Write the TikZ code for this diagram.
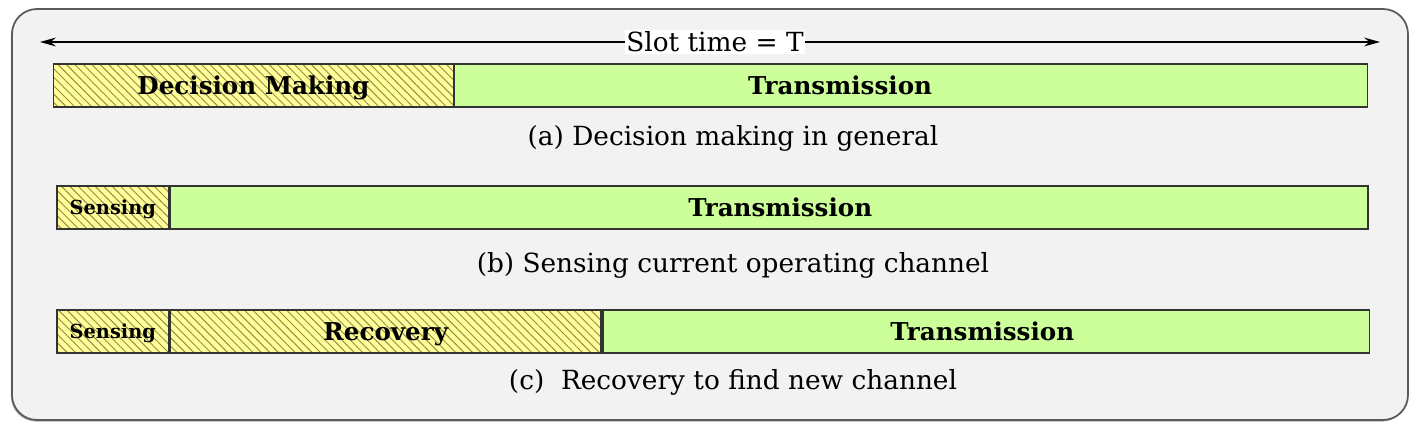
\documentclass[tikz,border=0pt]{standalone}
\usepackage{fontspec}
\setmainfont{DejaVu Serif}
\usepackage{xcolor}
\usepackage{tikz}
\usetikzlibrary{arrows.meta,positioning,shadows,patterns.meta}
\definecolor{SlotGray}  {HTML}{F2F2F2}
\definecolor{SlotEdge}  {HTML}{5A5A5A}
\definecolor{TxGreen}   {HTML}{CCFF99}
\definecolor{HatchYel}  {HTML}{FFFF99}
\definecolor{HatchLine} {HTML}{9A8A4A}
\definecolor{BarEdge}   {HTML}{333333}

\tikzset{
  segbox/.style={draw=BarEdge,line width=0.9pt,minimum height=0.86cm,inner sep=0pt,anchor=west,text depth=0pt},
  txbox/.style={segbox,fill=TxGreen},
  hatchbox/.style={segbox,preaction={fill=HatchYel},
    pattern={Lines[angle=-45,distance=3.4pt,line width=0.55pt]},pattern color=HatchLine},
  biglbl/.style={font=\bfseries\fontsize{14}{16}\selectfont},
  smalllbl/.style={font=\bfseries\fontsize{11}{13}\selectfont},
  caption/.style={font=\fontsize{15}{17}\selectfont}
}

\begin{document}
\begin{tikzpicture}[x=0.02cm,y=-0.02cm]
    \useasboundingbox (0,0) rectangle (1417,429);
    % frame
    \draw[SlotEdge,line width=1pt,fill=SlotGray,rounded corners=0.5cm,
      drop shadow={shadow xshift=-0.6pt,shadow yshift=-0.9pt,opacity=0.6}] (12,9) rectangle (1408,420);
    % slot arrow
    \coordinate (tl) at (40,42);
    \coordinate (tr) at (1380,42);
    \draw[{Stealth[length=9pt,width=5pt]}-{Stealth[length=9pt,width=5pt]},line width=0.8pt] (tl) -- (tr)
      node[midway,fill=white,inner sep=1pt,caption,xshift=0.1cm] (slot) {Slot time = T};
    % (a)
    \node[hatchbox,biglbl,minimum width=8cm] (dm) at (53,85.5) {Decision Making};
    \node[txbox,minimum width=18.26cm,label={[xshift=-1.42cm,biglbl]center:Transmission}] (txa) at (dm.east) {};
    \node[caption] (capa) at (733,138) {(a) Decision making in general};
    % (b)
    \node[hatchbox,smalllbl,minimum width=2.24cm] (sna) at (56,207.5) {Sensing};
    \node[txbox,minimum width=23.96cm,label={[xshift=0.22cm,biglbl]center:Transmission}] (txb) at (sna.east) {};
    \node[caption] (capb) at (733,265) {(b) Sensing current operating channel};
    % (c)
    \node[hatchbox,smalllbl,minimum width=2.24cm] (snb) at (56,331.5) {Sensing};
    \node[hatchbox,biglbl,minimum width=8.62cm] (rec) at (snb.east) {Recovery};
    \node[txbox,minimum width=15.34cm,label={[xshift=-0.08cm,biglbl]center:Transmission}] (txc) at (rec.east) {};
    \node[caption] (capc) at (733,382) {(c)\ \ Recovery to find new channel};
\end{tikzpicture}
\end{document}
